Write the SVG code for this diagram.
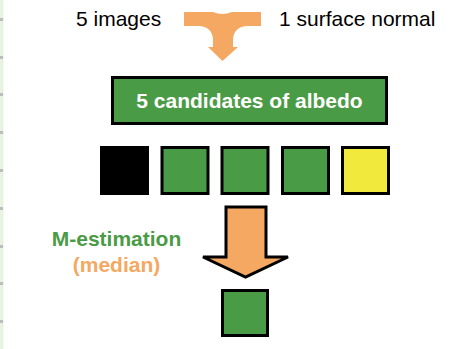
<svg xmlns="http://www.w3.org/2000/svg" width="453" height="349" viewBox="0 0 453 349">
<style>
.t{font-family:"Liberation Sans",Arial,sans-serif;font-size:21px;fill:#000}
.b{font-family:"Liberation Sans",Arial,sans-serif;font-size:21px;font-weight:bold}
.sq{stroke:#000;stroke-width:3}
.g{fill:#4a9b45}
.arrow{fill:#f4a862}
.tick{fill:#bdbdbd}
</style>
<rect width="453" height="349" fill="#fff"/>
<g id="margin">
<rect x="0" y="0" width="3.5" height="349" fill="#e8f4e2"/>
<rect class="tick" x="0" y="18" width="3" height="3"/>
<rect class="tick" x="0" y="56" width="3" height="3"/>
<rect class="tick" x="0" y="93" width="3" height="3"/>
<rect class="tick" x="0" y="131" width="3" height="3"/>
<rect class="tick" x="0" y="169" width="3" height="3"/>
<rect class="tick" x="0" y="207" width="3" height="3"/>
<rect class="tick" x="0" y="245" width="3" height="3"/>
<rect class="tick" x="0" y="282" width="3" height="3"/>
<rect class="tick" x="0" y="320" width="3" height="3"/>
</g>
<g id="connectors">
<path class="arrow" d="M184,12 L213,12 Q222.5,16 232,12 L261,12 L261,26 L248,26 C238,26 233,32 233,40 L233,47 L238,47 L222.5,61 L208,47 L213,47 L213,40 C213,32 208,26 198,26 L184,26 Z"/>
<path class="arrow" stroke="#000" stroke-width="3" stroke-linejoin="miter" d="M226,207 L266,207 L266,257 L288,257 L245.5,277 L203,257 L226,257 Z"/>
</g>
<g id="input-images"><text class="t" x="76" y="26">5 images</text></g>
<g id="input-normal"><text class="t" x="279" y="26">1 surface normal</text></g>
<g id="candidates-box">
<rect class="sq g" x="112.5" y="77.5" width="274" height="46"/>
<text class="b" x="249.5" y="107.5" fill="#fff" text-anchor="middle">5 candidates of albedo</text>
</g>
<g id="candidate-1"><rect class="sq" x="101.5" y="147.5" width="46" height="46" fill="#000" stroke="#000"/></g>
<g id="candidate-2"><rect class="sq g" x="162" y="147.5" width="46" height="46"/></g>
<g id="candidate-3"><rect class="sq g" x="222" y="147.5" width="46" height="46"/></g>
<g id="candidate-4"><rect class="sq g" x="282.5" y="147.5" width="46" height="46"/></g>
<g id="candidate-5"><rect class="sq" x="342.5" y="147.5" width="46" height="46" fill="#f1ea3d"/></g>
<g id="method-label">
<text class="b" x="116.5" y="246" fill="#4a9b45" text-anchor="middle">M-estimation</text>
<text class="b" x="116.5" y="272" fill="#f4a862" text-anchor="middle">(median)</text>
</g>
<g id="result"><rect class="sq g" x="222.5" y="290.5" width="45" height="45"/></g>
</svg>
